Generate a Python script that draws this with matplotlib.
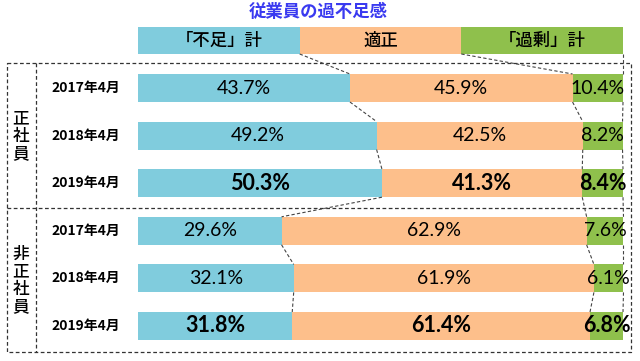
import matplotlib.pyplot as plt

plt.rcParams['font.family'] = ['Noto Sans CJK JP', 'DejaVu Sans']

title = '従業員の過不足感'
header_labels = ['「不足」計', '適正', '「過剰」計']
groups = ['正\n社\n員', '非\n正\n社\n員']
periods = ['2017年4月', '2018年4月', '2019年4月',
           '2017年4月', '2018年4月', '2019年4月']
shortage = [43.7, 49.2, 50.3, 29.6, 32.1, 31.8]
adequate = [45.9, 42.5, 41.3, 62.9, 61.9, 61.4]
surplus = [10.4, 8.2, 8.4, 7.6, 6.1, 6.8]
bold_rows = [2, 5]

colors = ['#80ccdd', '#fdbf8b', '#8fc04c']
W, H = 640, 361

fig = plt.figure(figsize=(W / 100, H / 100), dpi=100)
# overlay in pixel coords for boxes and labels
deco = fig.add_axes([0, 0, 1, 1])
deco.set_xlim(0, W)
deco.set_ylim(H, 0)
deco.axis('off')
# bar axes: 0..100 maps to x pixels 138..623
ax = fig.add_axes([138 / W, 0, (623 - 138) / W, 1])
ax.set_xlim(0, 100)
ax.set_ylim(H, 0)
ax.axis('off')
ax.patch.set_alpha(0)

row_y = [88 + i * 47.6 for i in range(len(shortage))]
bar_h = 28
head_y, head_h = 40.5, 27

# header
third = 100 / 3
for k, lab in enumerate(header_labels):
    ax.barh(head_y, third, left=k * third, height=head_h, color=colors[k])
    ax.text(k * third + third / 2, head_y, lab, ha='center', va='center',
            fontsize=12.5, fontweight='medium', color='black')

# stacked bars
lefts_all = []
for i in range(len(shortage)):
    vals = [shortage[i], adequate[i], surplus[i]]
    left = 0
    lefts = []
    bold = i in bold_rows
    for k, v in enumerate(vals):
        ax.barh(row_y[i], v, left=left, height=bar_h, color=colors[k])
        ax.text(left + v / 2, row_y[i], f'{v:.1f}%', ha='center', va='center',
                family=['Lato', 'DejaVu Sans'],
                fontsize=15.5 if bold else 14,
                fontweight='bold' if bold else 'normal', color='black')
        left += v
        lefts.append(left)
    lefts_all.append(lefts)

# dashed connectors between boundaries
bounds = [[third, 2 * third, 100]] + lefts_all
tops = [head_y + head_h / 2] + [y + bar_h / 2 for y in row_y]
nexts = [y - bar_h / 2 for y in row_y]
for i in range(len(row_y)):
    for k in range(3):
        ax.plot([bounds[i][k], bounds[i + 1][k]], [tops[i], nexts[i]],
                ls=(0, (3, 2)), lw=0.8, color='#444444', clip_on=False)

# title
deco.text(318, 12, title, ha='center', va='center', fontsize=12.5,
          fontweight='bold', color='#3a3af0')

# dashed frame
dash = dict(ls=(0, (3, 2)), lw=0.9, color='#333333')
deco.plot([7, 631, 631, 7, 7], [63, 63, 352, 352, 63], **dash)
deco.plot([7, 631], [207.5, 207.5], **dash)
deco.plot([35.5, 35.5], [63, 352], **dash)

# group and period labels
deco.text(21, 136, groups[0], ha='center', va='center', fontsize=12,
          fontweight='medium', linespacing=0.95)
deco.text(21, 280, groups[1], ha='center', va='center', fontsize=12,
          fontweight='medium', linespacing=0.95)
for i, p in enumerate(periods):
    deco.text(86, row_y[i], p, ha='center', va='center', fontsize=10,
              fontweight='bold')

fig.savefig('out.png', dpi=100)
